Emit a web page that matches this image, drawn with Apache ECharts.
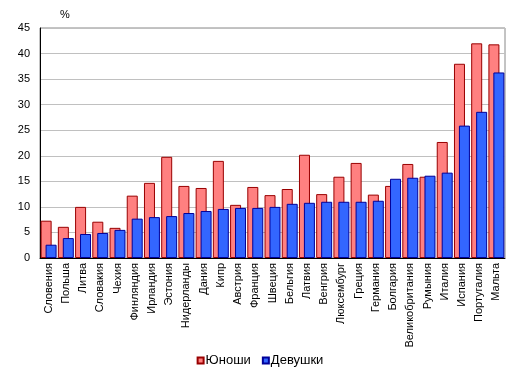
<!DOCTYPE html>
<html>
<head>
<meta charset="utf-8">
<script src="https://cdn.jsdelivr.net/npm/echarts@6/dist/echarts.min.js"></script>
<style>
html, body { margin: 0; padding: 0; background: #fff; }
#chart { width: 520px; height: 377px; }
</style>
</head>
<body>
<div id="chart"></div>
<script>
var countries = ['Словения', 'Польша', 'Литва', 'Словакия', 'Чехия', 'Финляндия', 'Ирландия', 'Эстония', 'Нидерланды', 'Дания', 'Кипр', 'Австрия', 'Франция', 'Швеция', 'Бельгия', 'Латвия', 'Венгрия', 'Люксембург', 'Греция', 'Германия', 'Болгария', 'Великобритания', 'Румыния', 'Италия', 'Испания', 'Португалия', 'Мальта'];
var boys = [7.3, 6.1, 10.0, 7.1, 5.9, 12.2, 14.7, 19.8, 14.1, 13.7, 19.0, 10.4, 13.9, 12.3, 13.5, 20.2, 12.5, 15.9, 18.6, 12.4, 14.1, 18.4, 15.9, 22.7, 38.0, 42.0, 41.8];
var girls = [2.6, 3.9, 4.7, 4.9, 5.5, 7.7, 8.0, 8.2, 8.8, 9.2, 9.6, 9.8, 9.8, 10.0, 10.6, 10.8, 11.0, 11.0, 11.0, 11.2, 15.5, 15.7, 16.1, 16.7, 25.9, 28.6, 36.3];
var yTicks = [0, 5, 10, 15, 20, 25, 30, 35, 40, 45];

var chart = echarts.init(document.getElementById('chart'));

var option = {
    animation: false,
    textStyle: { fontFamily: 'Arial, "Liberation Sans", sans-serif' },
    grid: {
        left: 40,
        right: 15,
        top: 28,
        bottom: 119,
        show: true,
        borderColor: '#888888',
        borderWidth: 1
    },
    graphic: [
        { type: 'text', left: 60, top: 9, style: { text: '%', fontSize: 11, fill: '#000', fontFamily: 'Arial, "Liberation Sans", sans-serif' } }
    ],
    legend: {
        bottom: 5,
        left: 'center',
        itemWidth: 6,
        itemHeight: 6,
        itemGap: 11,
        icon: 'rect',
        textStyle: { fontSize: 13, color: '#000', padding: [0, 0, 0, -3] },
        data: ['Юноши', 'Девушки']
    },
    xAxis: {
        type: 'category',
        data: countries,
        axisLine: { lineStyle: { color: '#000', width: 1 } },
        axisTick: { show: false },
        axisLabel: { rotate: 90, fontSize: 11, color: '#000', margin: 5, interval: 0 }
    },
    yAxis: {
        type: 'value',
        min: yTicks[0],
        max: yTicks[yTicks.length - 1],
        interval: 5,
        axisLine: { show: true, lineStyle: { color: '#000', width: 1 } },
        axisTick: { show: false },
        axisLabel: { fontSize: 11, color: '#000', margin: 10 },
        splitLine: { lineStyle: { color: '#c0c0c0', width: 1 } }
    },
    series: [
        {
            name: 'Юноши',
            type: 'bar',
            data: boys,
            barWidth: 11,
            barGap: '-55%',
            itemStyle: { color: '#ff8080', borderColor: '#990000', borderWidth: 1 }
        },
        {
            name: 'Девушки',
            type: 'bar',
            data: girls,
            barWidth: 11,
            itemStyle: { color: '#3366ff', borderColor: '#000099', borderWidth: 1 }
        }
    ]
};

chart.setOption(option);
</script>
</body>
</html>
